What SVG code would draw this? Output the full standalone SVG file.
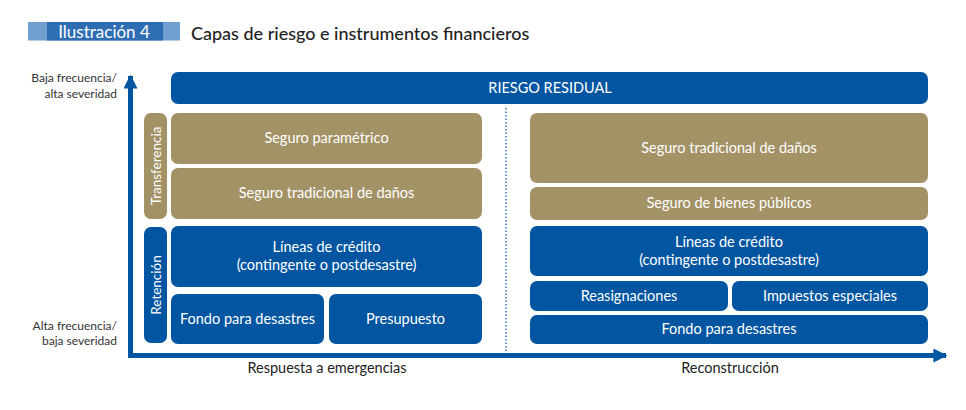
<svg xmlns="http://www.w3.org/2000/svg" width="966" height="410" viewBox="0 0 966 410">
<style>
text{font-family:Lato,"Open Sans","Liberation Sans",sans-serif}
.blue{fill:#0255a0}
.gold{fill:#a39266}
.bt{fill:#fff;font-size:14.5px;text-anchor:middle}
.ax{font-size:12px;fill:#333;text-anchor:end}
.xl{font-size:14.5px;fill:#222;text-anchor:middle}
.vt{fill:#fff;font-size:13.5px;text-anchor:middle}
</style>
<defs>
<marker id="ah" viewBox="0 0 10 10" refX="9" refY="5" markerWidth="2.8" markerHeight="2.8" orient="auto" markerUnits="strokeWidth">
<path d="M0,0 L10,5 L0,10 Z" fill="#0255a0"/>
</marker>
</defs>
<rect width="966" height="410" fill="#fff"/>
<g id="title">
<rect x="28" y="22" width="152" height="18.5" fill="#6f9fd0"/>
<rect x="47" y="22" width="116" height="18.5" fill="#2f6db3"/>
<text x="104" y="37.5" font-size="17" fill="#fff" text-anchor="middle">Ilustración 4</text>
<text x="191" y="40" font-size="18" fill="#222" font-weight="500">Capas de riesgo e instrumentos financieros</text>
</g>
<g id="connectors">
<line x1="130.5" y1="358" x2="130.5" y2="76" stroke="#0255a0" stroke-width="5" marker-end="url(#ah)"/>
<line x1="128" y1="355.5" x2="946" y2="355.5" stroke="#0255a0" stroke-width="5" marker-end="url(#ah)"/>
<line x1="506" y1="108" x2="506" y2="352" stroke="#0255a0" stroke-width="1.2" stroke-dasharray="1.5,2"/>
</g>
<g id="axis-labels">
<text class="ax" x="117" y="82">Baja frecuencia/</text>
<text class="ax" x="117" y="98">alta severidad</text>
<text class="ax" x="117" y="330">Alta frecuencia/</text>
<text class="ax" x="117" y="345">baja severidad</text>
<text class="xl" x="327" y="373">Respuesta a emergencias</text>
<text class="xl" x="730" y="373">Reconstrucción</text>
</g>
<g id="riesgo-residual">
<rect class="blue" x="171" y="72" width="757" height="32" rx="7"/>
<text class="bt" x="550" y="93">RIESGO RESIDUAL</text>
</g>
<g id="transferencia">
<rect class="gold" x="144" y="113" width="23" height="106" rx="7"/>
<text class="vt" transform="translate(160.5,166) rotate(-90)" x="0" y="0">Transferencia</text>
</g>
<g id="retencion">
<rect class="blue" x="144" y="227" width="23" height="116" rx="7"/>
<text class="vt" transform="translate(160.5,285) rotate(-90)" x="0" y="0">Retención</text>
</g>
<g id="l-seguro-parametrico">
<rect class="gold" x="171" y="113" width="311" height="51" rx="7"/>
<text class="bt" x="326.5" y="143">Seguro paramétrico</text>
</g>
<g id="l-seguro-tradicional">
<rect class="gold" x="171" y="168" width="311" height="51" rx="7"/>
<text class="bt" x="326.5" y="198">Seguro tradicional de daños</text>
</g>
<g id="l-lineas-credito">
<rect class="blue" x="171" y="226" width="311" height="61" rx="7"/>
<text class="bt" x="326.5" y="252">Líneas de crédito</text>
<text class="bt" x="326.5" y="270">(contingente o postdesastre)</text>
</g>
<g id="l-fondo">
<rect class="blue" x="171" y="294" width="153" height="50" rx="7"/>
<text class="bt" x="247.5" y="324">Fondo para desastres</text>
</g>
<g id="l-presupuesto">
<rect class="blue" x="329" y="294" width="153" height="50" rx="7"/>
<text class="bt" x="405.5" y="324">Presupuesto</text>
</g>
<g id="r-seguro-tradicional">
<rect class="gold" x="530" y="113" width="398" height="70" rx="7"/>
<text class="bt" x="729" y="153">Seguro tradicional de daños</text>
</g>
<g id="r-seguro-bienes">
<rect class="gold" x="530" y="187" width="398" height="33" rx="7"/>
<text class="bt" x="729" y="208">Seguro de bienes públicos</text>
</g>
<g id="r-lineas-credito">
<rect class="blue" x="530" y="226" width="398" height="50" rx="7"/>
<text class="bt" x="729" y="247">Líneas de crédito</text>
<text class="bt" x="729" y="265">(contingente o postdesastre)</text>
</g>
<g id="r-reasignaciones">
<rect class="blue" x="530" y="281" width="198" height="30" rx="7"/>
<text class="bt" x="629" y="301">Reasignaciones</text>
</g>
<g id="r-impuestos">
<rect class="blue" x="732" y="281" width="196" height="30" rx="7"/>
<text class="bt" x="830" y="301">Impuestos especiales</text>
</g>
<g id="r-fondo">
<rect class="blue" x="530" y="315" width="398" height="29" rx="7"/>
<text class="bt" x="729" y="334">Fondo para desastres</text>
</g>
</svg>
